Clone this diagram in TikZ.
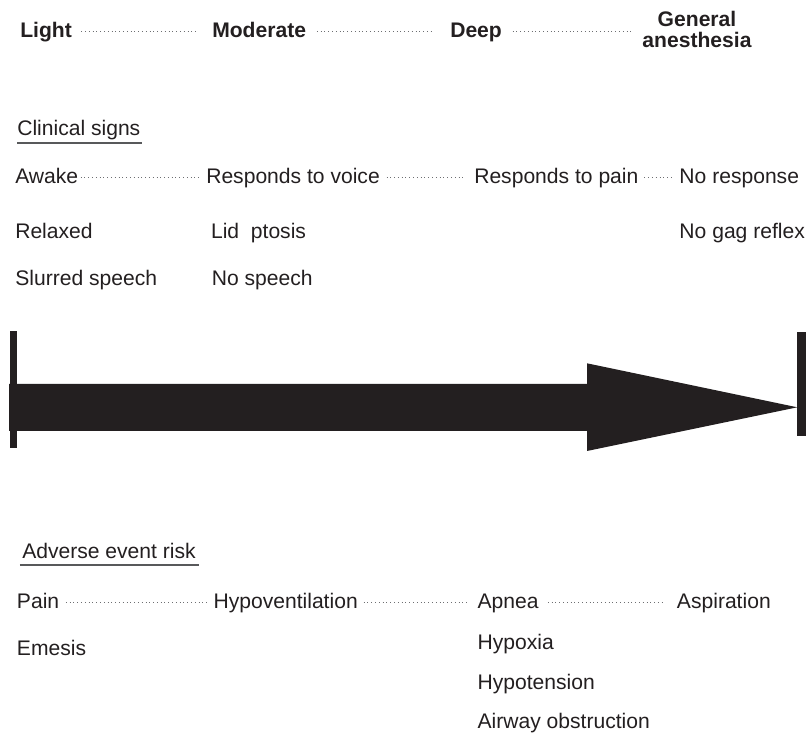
\documentclass[tikz,border=0pt]{standalone}
\usepackage{fontspec}
\setmainfont{Liberation Sans}
\usepackage{xcolor}
\usepackage{tikz}
\definecolor{inkdark}{HTML}{231F20}
\definecolor{rulegray}{HTML}{58595B}
\definecolor{leadgray}{HTML}{6D6E71}

\begin{document}
\begin{tikzpicture}[
  font=\fontsize{15}{15}\selectfont,
  text=inkdark,
  stage/.style={font=\fontsize{15}{15}\selectfont\bfseries, inner sep=0pt,
                anchor=base west},
  sign/.style={inner sep=0pt, anchor=base west},
  lead/.style={dotted, line width=0.7pt, draw=leadgray},
  heading/.style={line width=1.4pt, draw=rulegray}
]
\useasboundingbox (0,0) rectangle (20.225,18.375);

%% ---- sedation levels ------------------------------------------------------
\node[stage] (light) at (0.5,17.425) {Light};
\node[stage] (moderate) at (5.3,17.425) {Moderate};
\node[stage] (deep) at (11.25,17.425) {Deep};
\node[stage, anchor=base, align=center] (ga) at (17.425,17.175)
  {General\\anesthesia};
\coordinate (gaend) at (deep.base -| ga.west);

\draw[lead, shorten <=6.5pt, shorten >=10.5pt]
  ([yshift=4.3pt]light.base east) -- ([yshift=4.3pt]moderate.base west);
\draw[lead, shorten <=7.5pt, shorten >=12pt]
  ([yshift=4.3pt]moderate.base east) -- ([yshift=4.3pt]deep.base west);
\draw[lead, shorten <=7.5pt, shorten >=7pt]
  ([yshift=4.3pt]deep.base east) -- ([yshift=4.3pt]gaend);

%% ---- clinical signs -------------------------------------------------------
\node[sign] (signs) at (0.425,14.9825) {Clinical signs};
\draw[heading] ([yshift=-5.3pt]signs.base west) -- ([xshift=1pt,yshift=-5.3pt]signs.base east);

\node[sign] (awake) at (0.375,13.7925) {Awake};
\node[sign] (voice) at (5.15,13.7925) {Responds to voice};
\node[sign] (pain) at (11.85,13.7925) {Responds to pain};
\node[sign] (noresp) at (16.98,13.7925) {No response};

\draw[lead, shorten <=1.5pt, shorten >=4.3pt]
  ([yshift=4.3pt]awake.base east) -- ([yshift=4.3pt]voice.base west);
\draw[lead, shorten <=4.6pt, shorten >=6.4pt]
  ([yshift=4.3pt]voice.base east) -- ([yshift=4.3pt]pain.base west);
\draw[lead, shorten <=4pt, shorten >=5.2pt]
  ([yshift=4.3pt]pain.base east) -- ([yshift=4.3pt]noresp.base west);

\node[sign] (relaxed) at (0.375,12.4175) {Relaxed};
\node[sign] (ptosis) at (5.27,12.4175) {Lid\ \ ptosis};
\node[sign] (nogag) at (16.98,12.4175) {No gag reflex};
\node[sign] (slurred) at (0.375,11.225) {Slurred speech};
\node[sign] (nospeech) at (5.29,11.225) {No speech};

%% ---- depth arrow ----------------------------------------------------------
\fill[inkdark] (0.225,8.775) -- (14.675,8.775) -- (14.675,9.2925)
  -- (19.9325,8.1925) -- (14.675,7.1) -- (14.675,7.6) -- (0.225,7.6) -- cycle;
\fill[inkdark] (0.2375,7.1825) rectangle (0.425,10.1075);
\fill[inkdark] (19.9325,7.4825) rectangle (20.15,10.0825);

%% ---- adverse event risk ---------------------------------------------------
\node[sign] (risk) at (0.55,4.4175) {Adverse event risk};
\draw[heading] ([xshift=-1.5pt,yshift=-4.8pt]risk.base west) -- ([xshift=2pt,yshift=-4.8pt]risk.base east);

\node[sign] (painrisk) at (0.4175,3.1675) {Pain};
\node[sign] (hypovent) at (5.3325,3.1675) {Hypoventilation};
\node[sign] (apnea) at (11.9325,3.1675) {Apnea};
\node[sign] (aspir) at (16.9175,3.1675) {Aspiration};

\draw[lead, shorten <=4.5pt, shorten >=4.5pt]
  ([yshift=4pt]painrisk.base east) -- ([yshift=4pt]hypovent.base west);
\draw[lead, shorten <=4pt, shorten >=6.6pt]
  ([yshift=4pt]hypovent.base east) -- ([yshift=4pt]apnea.base west);
\draw[lead, shorten <=6.4pt, shorten >=8.3pt]
  ([yshift=4pt]apnea.base east) -- ([yshift=4pt]aspir.base west);

\node[sign] (emesis) at (0.4175,2.0) {Emesis};
\node[sign] (hypoxia) at (11.9325,2.1425) {Hypoxia};
\node[sign] (hypotens) at (11.9325,1.1425) {Hypotension};
\node[sign] (airway) at (11.9325,0.1675) {Airway obstruction};

\end{tikzpicture}
\end{document}
